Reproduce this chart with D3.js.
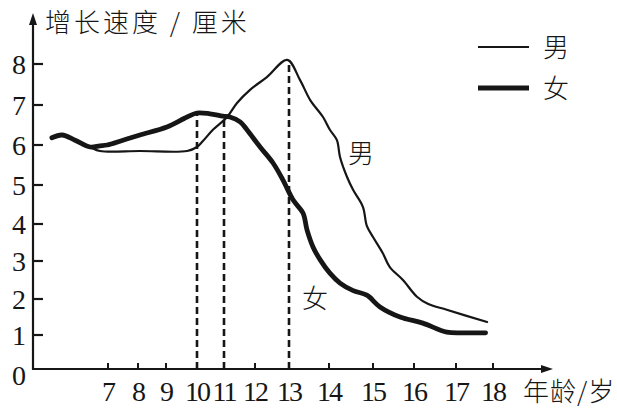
<!DOCTYPE html>
<html><head><meta charset="utf-8">
<script src="https://cdn.jsdelivr.net/npm/d3@7"></script>
<style>
html,body{margin:0;padding:0;background:#fff;}
svg{display:block;}
</style></head>
<body>
<svg id="c" width="617" height="411"></svg>
<script>
// ---- data ----
const xTickAges = [7, 8, 9, 10, 11, 12, 13, 14, 15, 16, 17, 18];
const yTickValues = [0, 1, 2, 3, 4, 5, 6, 7, 8];
const seriesNames = ["男", "女"];
const maleAge   = [5.13, 5.47, 5.9, 6.4, 6.73, 8.07, 9.68, 10.0, 10.22, 10.59, 11.1, 11.42, 11.84, 12.35, 12.95, 13.28, 13.53, 13.85, 14.02, 14.18, 14.25, 14.41, 14.55, 14.77, 14.86, 15.0, 15.24, 15.41, 15.73, 16.07, 16.34, 16.78, 17.84];
const maleValue = [6.18, 6.25, 6.12, 5.95, 5.85, 5.85, 5.85, 5.95, 6.1, 6.38, 6.7, 7.05, 7.37, 7.68, 8.1, 7.6, 7.12, 6.7, 6.38, 6.12, 5.7, 5.2, 4.87, 4.44, 3.95, 3.65, 3.21, 2.84, 2.5, 2.06, 1.86, 1.7, 1.36];
const femaleAge   = [5.13, 5.47, 5.9, 6.4, 6.73, 6.97, 7.5, 8.07, 9.03, 9.68, 10.0, 10.48, 10.96, 11.19, 11.52, 11.74, 12.15, 12.53, 12.82, 13.1, 13.35, 13.45, 13.6, 13.78, 14.02, 14.25, 14.55, 14.86, 15.17, 15.66, 16.21, 16.78, 17.24, 17.8];
const femaleValue = [6.18, 6.25, 6.12, 5.95, 5.98, 6.0, 6.12, 6.25, 6.45, 6.7, 6.8, 6.78, 6.72, 6.7, 6.58, 6.38, 5.95, 5.55, 5.13, 4.62, 4.28, 3.84, 3.38, 3.03, 2.68, 2.42, 2.22, 2.1, 1.78, 1.5, 1.33, 1.08, 1.06, 1.06];
const markAges   = [10, 11, 13];
const markValues = [6.8, 6.72, 8.1];
const yTitle = "增长速度 / 厘米";
const xTitle = "年龄/岁";

// ---- layout (scanned axis is slightly non-uniform) ----
const xRangePx = [108, 138, 166, 197, 224, 255, 289, 329, 373, 414, 456, 493];
const yRangePx = [369, 335, 299, 261, 224, 185, 145, 105, 64];
const originX = 33, originY = 369, xEnd = 553, yTop = 13;
const ink = "#161616";

const x = d3.scaleLinear().domain(xTickAges).range(xRangePx);
const y = d3.scaleLinear().domain(yTickValues).range(yRangePx);

const svg = d3.select("#c");
const serif = "'Liberation Serif','Times New Roman',serif";
const cjk = "'Noto Sans CJK SC','Noto Sans',sans-serif";

// axes
svg.append("line").attr("x1", originX).attr("y1", originY + 1).attr("x2", originX).attr("y2", yTop + 6)
  .attr("stroke", ink).attr("stroke-width", 2.2);
svg.append("path").attr("d", `M${originX},${yTop} L${originX - 4},${yTop + 12} L${originX + 4},${yTop + 12} Z`).attr("fill", ink);
svg.append("line").attr("x1", originX - 1).attr("y1", originY).attr("x2", xEnd - 6).attr("y2", originY)
  .attr("stroke", ink).attr("stroke-width", 2.2);
svg.append("path").attr("d", `M${xEnd},${originY} L${xEnd - 12},${originY - 4} L${xEnd - 12},${originY + 4} Z`).attr("fill", ink);

// y ticks
svg.selectAll(".yt").data(yTickValues.filter(v => v > 0)).join("line")
  .attr("x1", originX).attr("x2", originX + 10).attr("y1", d => y(d)).attr("y2", d => y(d))
  .attr("stroke", ink).attr("stroke-width", 2.2);
svg.selectAll(".yl").data(yTickValues).join("text")
  .attr("x", 26).attr("y", d => y(d) + (d === 0 ? 16 : 10))
  .attr("text-anchor", "end").attr("font-family", serif).attr("font-size", 28).attr("fill", ink)
  .text(d => d);

// x ticks
svg.selectAll(".xt").data(xTickAges).join("line")
  .attr("x1", d => x(d)).attr("x2", d => x(d)).attr("y1", originY).attr("y2", originY - 6)
  .attr("stroke", ink).attr("stroke-width", 2);
svg.selectAll(".xl").data(xTickAges).join("text")
  .attr("x", d => x(d)).attr("y", 401)
  .attr("text-anchor", "middle").attr("font-family", serif).attr("font-size", 28).attr("fill", ink)
  .attr("letter-spacing", -2)
  .text(d => d);

// titles
svg.append("text").attr("x", 45).attr("y", 32).attr("font-family", cjk).attr("font-size", 26)
  .attr("letter-spacing", 3).attr("fill", ink).attr("font-weight", 300).text(yTitle);
svg.append("text").attr("x", 523).attr("y", 401).attr("font-family", cjk).attr("font-size", 26)
  .attr("letter-spacing", 1).attr("fill", ink).attr("font-weight", 300).text(xTitle);

// dashed markers
const marks = markAges.map((a, i) => ({a, v: markValues[i]}));
svg.selectAll(".mk").data(marks).join("line")
  .attr("x1", d => x(d.a)).attr("x2", d => x(d.a)).attr("y1", originY).attr("y2", d => y(d.v))
  .attr("stroke", ink).attr("stroke-width", 2.6).attr("stroke-dasharray", "7,4");

// lines
const line = d3.line().x(d => x(d[0])).y(d => y(d[1])).curve(d3.curveCatmullRom.alpha(0.5));
const male = maleAge.map((a, i) => [a, maleValue[i]]);
const female = femaleAge.map((a, i) => [a, femaleValue[i]]);
svg.append("path").attr("d", line(male)).attr("fill", "none").attr("stroke", ink).attr("stroke-width", 2.2)
  .attr("stroke-linejoin", "round").attr("stroke-linecap", "round");
svg.append("path").attr("d", line(female)).attr("fill", "none").attr("stroke", ink).attr("stroke-width", 4.8)
  .attr("stroke-linejoin", "round").attr("stroke-linecap", "round");

// curve labels
svg.append("text").attr("x", 348).attr("y", 163).attr("font-family", cjk).attr("font-size", 26)
  .attr("font-weight", 300).attr("fill", ink).text(seriesNames[0]);
svg.append("text").attr("x", 302).attr("y", 308).attr("font-family", cjk).attr("font-size", 26)
  .attr("font-weight", 300).attr("fill", ink).text(seriesNames[1]);

// legend
const legW = [2.2, 4.8];
const legY = [47, 88];
seriesNames.forEach((n, i) => {
  svg.append("line").attr("x1", 478).attr("x2", 529).attr("y1", legY[i]).attr("y2", legY[i])
    .attr("stroke", ink).attr("stroke-width", legW[i]);
  svg.append("text").attr("x", 543).attr("y", legY[i] + 10).attr("font-family", cjk).attr("font-size", 26)
    .attr("font-weight", 300).attr("fill", ink).text(n);
});
</script>
</body></html>
